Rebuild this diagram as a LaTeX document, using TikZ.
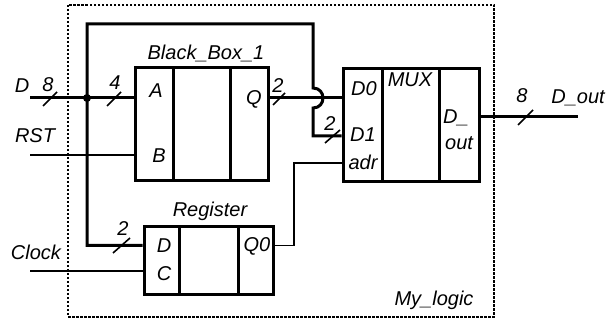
\documentclass[tikz,border=0pt]{standalone}
\usepackage{fontspec}
\setmainfont{Liberation Sans}
\begin{document}
\begin{tikzpicture}[x=1pt,y=-1pt,
  font=\fontsize{20}{24}\selectfont\itshape,
  bus/.style={line width=3pt},
  wire/.style={line width=1.6pt},
  blk/.style={draw, line width=3pt, inner sep=0pt, rectangle},
  divider/.style={line width=3pt},
  lbl/.style={anchor=base, inner sep=0pt},
  slash/.style={line width=1.6pt},
  frame/.style={line width=2pt, dash pattern=on 2.5pt off 1.5pt}]
\useasboundingbox (0,0) rectangle (608,320);

% frame
\draw[frame] (68,5) rectangle (494,317);

% blocks
\node[blk, minimum width=133pt, minimum height=113pt] (bb) at (201.5,124.5) {};
\node[blk, minimum width=136pt, minimum height=113pt] (mux) at (411,125.5) {};
\node[blk, minimum width=129pt, minimum height=68pt] (reg) at (208.5,261) {};
\draw[divider] (173,68) -- (173,181);
\draw[divider] (230,68) -- (230,181);
\draw[divider] (382,69) -- (382,182);
\draw[divider] (439,69) -- (439,182);
\draw[divider] (179,227) -- (179,295);
\draw[divider] (238,227) -- (238,295);

% coordinates
\coordinate (Din) at (30,98);
\coordinate (j) at (87,98);
\coordinate (RSTin) at (30,155);
\coordinate (CLKin) at (30,271);
\coordinate (tl) at (87,24);
\coordinate (tr) at (313,24);
\coordinate (hopA) at (313,88);
\coordinate (hopB) at (313,108);
\coordinate (fb) at (313,136);
\coordinate (rD) at (87,245.5);
\coordinate (q0a) at (294,245.5);
\coordinate (q0b) at (294,163);
\coordinate (Dout) at (578,117);

% wires
\draw[bus] (Din) -- (bb.west |- Din);
\fill (j) circle (4pt);
\draw[wire] (RSTin) -- (bb.west |- RSTin);
\draw[bus] (reg.west |- rD) -- (rD) -- (tl) -- (tr) -- (hopA)
  .. controls +(13.3,0) and +(13.3,0) .. (hopB) -- (fb) -- (mux.west |- fb);
\draw[bus] (bb.east |- j) -- (mux.west |- j);
\draw[wire] (CLKin) -- (reg.west |- CLKin);
\draw[wire] (reg.east |- q0a) -- (q0a) -- (q0b) -- (mux.west |- q0b);
\draw[bus] (mux.east |- Dout) -- (Dout);

% bus slashes
\draw[slash] (43,106) -- (57,92);
\draw[slash] (107,106) -- (121,92);
\draw[slash] (273,105) -- (285,93);
\draw[slash] (325,143) -- (340,130);
\draw[slash] (113,253) -- (130,238);
\draw[slash] (518,125) -- (533,110);

% labels
\node[lbl] (tD) at (22,93) {D};
\node[lbl] (t8a) at (48,92) {8};
\node[lbl] (t4) at (115,90) {4};
\node[lbl] (tRST) at (35,143) {RST};
\node[lbl] (tA) at (156,98) {A};
\node[lbl] (tB) at (159,163) {B};
\node[lbl] (tQ) at (254,105) {Q};
\node[lbl] (t2a) at (278,93) {2};
\node[lbl] (tBB) at (206,60) {Black\_Box\_1};
\node[lbl] (tD0) at (364,96) {D0};
\node[lbl] (tMUX) at (410,87) {MUX};
\node[lbl] (tD1) at (363,142) {D1};
\node[lbl] (t2b) at (330,131) {2};
\node[lbl] (tadr) at (363,170) {adr};
\node[lbl, anchor=base west] (tDu) at (443,124) {D\_};
\node[lbl, anchor=base west] (tout) at (445,150) {out};
\node[lbl] (t8b) at (522,103) {8};
\node[lbl] (tDout) at (578,104) {D\_out};
\node[lbl] (tReg) at (210,217) {Register};
\node[lbl] (t2c) at (123,236) {2};
\node[lbl] (tRD) at (164,253) {D};
\node[lbl] (tRC) at (164,281) {C};
\node[lbl] (tQ0) at (257,252) {Q0};
\node[lbl] (tClk) at (36,260) {Clock};
\node[lbl] (tMy) at (434,306) {My\_logic};
\end{tikzpicture}
\end{document}
